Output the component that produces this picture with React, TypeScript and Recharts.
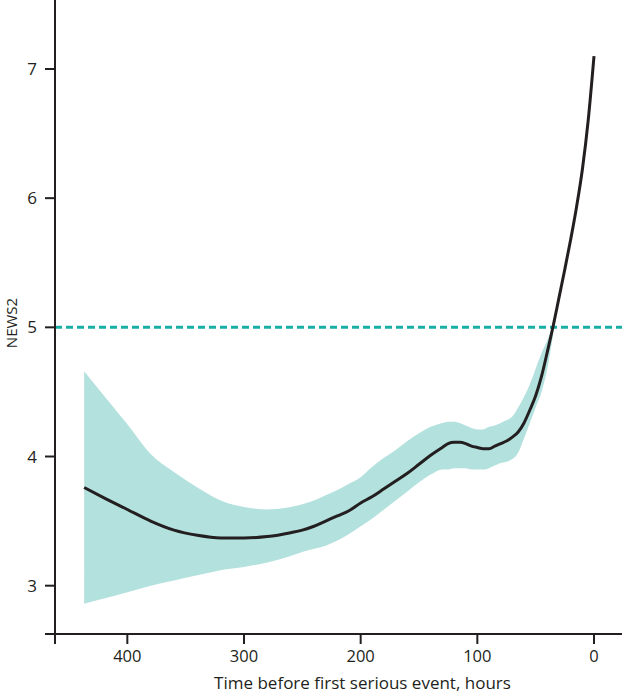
import React from 'react';
import { ComposedChart, Line, Area, XAxis, YAxis, ReferenceLine, Label } from 'recharts';

const hours = [0, 5, 10, 15, 20, 25, 30, 35, 40, 45, 50, 55, 60, 65, 70, 75, 80, 85, 90, 95, 100, 105, 110, 115, 120, 125, 130, 140, 150, 160, 170, 180, 190, 200, 210, 220, 230, 240, 250, 260, 280, 300, 320, 340, 360, 380, 400, 420, 437];
const meanNews2 = [7.1, 6.6, 6.22, 5.93, 5.68, 5.45, 5.23, 5.01, 4.81, 4.62, 4.47, 4.36, 4.26, 4.19, 4.15, 4.12, 4.1, 4.08, 4.06, 4.06, 4.07, 4.08, 4.1, 4.11, 4.11, 4.1, 4.07, 4.01, 3.94, 3.87, 3.81, 3.75, 3.69, 3.64, 3.58, 3.54, 3.5, 3.46, 3.43, 3.41, 3.38, 3.37, 3.37, 3.39, 3.43, 3.5, 3.59, 3.68, 3.76];
const lowerCI = [null, null, null, null, null, null, null, 4.95, 4.68, 4.5, 4.38, 4.26, 4.14, 4.03, 3.98, 3.96, 3.95, 3.93, 3.91, 3.9, 3.9, 3.9, 3.91, 3.91, 3.91, 3.9, 3.9, 3.86, 3.8, 3.73, 3.66, 3.59, 3.52, 3.46, 3.4, 3.35, 3.31, 3.285, 3.26, 3.23, 3.18, 3.145, 3.12, 3.08, 3.04, 3.0, 2.95, 2.9, 2.86];
const upperCI = [null, null, null, null, null, null, null, 5.02, 4.9, 4.8, 4.68, 4.56, 4.46, 4.38, 4.31, 4.28, 4.26, 4.24, 4.23, 4.21, 4.21, 4.22, 4.24, 4.26, 4.27, 4.27, 4.26, 4.23, 4.18, 4.12, 4.05, 3.99, 3.92, 3.84, 3.79, 3.74, 3.7, 3.66, 3.63, 3.61, 3.59, 3.61, 3.66, 3.76, 3.88, 4.02, 4.25, 4.47, 4.66];
const xTicks = [462, 400, 300, 200, 100, 0];
const yTicks = [2.626, 3, 4, 5, 6, 7];
const threshold = 5;

const data = hours.map((h, i) => ({
  x: h,
  mean: meanNews2[i],
  band: lowerCI[i] == null ? null : [lowerCI[i], upperCI[i]],
}));

const FONT = '"Open Sans", sans-serif';
const AX = '#231f20';

export default function App() {
  return (
    <div style={{ position: 'absolute', left: 0, top: 0, width: 622, height: 693, background: '#fff' }}>
      <ComposedChart width={622} height={693} data={data} margin={{ top: 0, right: 0, bottom: 0, left: 0 }}>
        <XAxis
          type="number"
          dataKey="x"
          domain={[-24, 462]}
          reversed
          allowDataOverflow
          ticks={xTicks}
          interval={0}
          tickFormatter={(v: number) => (v === 462 ? '' : String(v))}
          height={59}
          tickSize={10}
          tickMargin={6}
          axisLine={{ stroke: AX, strokeWidth: 2 }}
          tickLine={{ stroke: AX, strokeWidth: 2 }}
          tick={{ fill: AX, fontSize: 16.5, fontFamily: FONT }}
        >
          <Label
            value="Time before first serious event, hours"
            position="insideBottom"
            offset={4}
            dx={24}
            fill={AX}
            fontSize={17}
            fontFamily={FONT}
          />
        </XAxis>
        <YAxis
          type="number"
          domain={[2.626, 7.534]}
          allowDataOverflow
          ticks={yTicks}
          interval={0}
          tickFormatter={(v: number) => (v === 2.626 ? '' : String(v))}
          width={55}
          tickSize={10}
          tickMargin={8}
          axisLine={{ stroke: AX, strokeWidth: 2 }}
          tickLine={{ stroke: AX, strokeWidth: 2 }}
          tick={{ fill: AX, fontSize: 17, fontFamily: FONT }}
        >
          <Label
            content={() => (
              <text
                x={11}
                y={323}
                transform="rotate(-90, 11, 323)"
                textAnchor="middle"
                dominantBaseline="central"
                fill={AX}
                fontSize={15}
                fontFamily={FONT}
              >
                NEWS2
              </text>
            )}
          />
        </YAxis>
        <Area
          type="monotone"
          dataKey="band"
          stroke="none"
          fill="#b3e1de"
          fillOpacity={1}
          isAnimationActive={false}
          connectNulls={false}
          activeDot={false}
        />
        <ReferenceLine y={threshold} stroke="#17aea6" strokeWidth={3} strokeDasharray="7 4" />
        <Line
          type="monotone"
          dataKey="mean"
          stroke={AX}
          strokeWidth={3}
          dot={false}
          activeDot={false}
          isAnimationActive={false}
        />
      </ComposedChart>
    </div>
  );
}
